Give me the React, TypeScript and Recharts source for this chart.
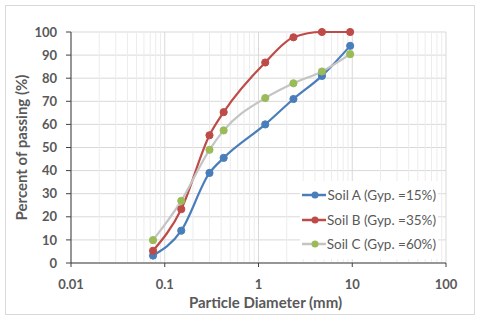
import { LineChart, Line, XAxis, YAxis, CartesianGrid, ReferenceLine, Legend, Label } from "recharts";

// sieve sizes (mm) and percent passing
const sieve = [0.075, 0.15, 0.3, 0.425, 1.18, 2.36, 4.75, 9.5];
const soilA = [3.2, 14, 39, 45.5, 60, 71, 81, 94];
const soilB = [5.3, 23.3, 55.3, 65.3, 86.8, 97.7, 100, 100];
const soilC = [9.9, 26.9, 49, 57.4, 71.4, 77.8, 82.9, 90.4];

const xTicks = [0.01, 0.1, 1, 10, 100];
const minorX = [
  0.02, 0.03, 0.04, 0.05, 0.06, 0.07, 0.08, 0.09,
  0.2, 0.3, 0.4, 0.5, 0.6, 0.7, 0.8, 0.9,
  2, 3, 4, 5, 6, 7, 8, 9,
  20, 30, 40, 50, 60, 70, 80, 90,
];
const yTicks = [0, 10, 20, 30, 40, 50, 60, 70, 80, 90, 100];

const series = [
  { key: "a", name: "Soil A (Gyp. =15%)", line: "#4A7EBB", dot: "#4A7EBB" },
  { key: "b", name: "Soil B (Gyp. =35%)", line: "#BE4B48", dot: "#BE4B48" },
  { key: "c", name: "Soil C (Gyp. =60%)", line: "#C4C4C4", dot: "#9BBB59" },
];

const data = sieve.map((d, i) => ({ d, a: soilA[i], b: soilB[i], c: soilC[i] }));

const font = "Lato, 'Open Sans', sans-serif";
const textColor = "#595959";
const tickStyle = { fill: textColor, fontSize: 13, fontWeight: 700, fontFamily: font };

function LegendBox() {
  return (
    <div style={{ background: "#fff", padding: "2px 2px", width: 134 }}>
      {series.map((s) => (
        <div key={s.key} style={{ display: "flex", alignItems: "center", height: 24.5 }}>
          <svg width={28} height={10}>
            <line x1={0} y1={5} x2={26} y2={5} stroke={s.line} strokeWidth={2.5} />
            <circle cx={13} cy={5} r={3.5} fill={s.dot} />
          </svg>
          <span style={{ fontFamily: font, fontSize: 13.5, color: textColor, marginLeft: 1, whiteSpace: "nowrap" }}>
            {s.name}
          </span>
        </div>
      ))}
    </div>
  );
}

export default function App() {
  return (
    <div style={{ position: "absolute", left: 0, top: 0, width: 480, height: 320, background: "#fff" }}>
      <div
        style={{
          position: "absolute", left: 5, top: 5, width: 468, height: 308,
          border: "1.5px solid #D9D9D9",
        }}
      />
      <LineChart
        width={480}
        height={320}
        data={data}
        margin={{ top: 32, right: 34, bottom: 0, left: 0 }}
        style={{ fontFamily: font }}
      >
        <CartesianGrid vertical={false} stroke="#D9D9D9" />
        {minorX.map((v) => (
          <ReferenceLine key={"m" + v} x={v} stroke="#ECECEC" strokeWidth={1} />
        ))}
        {xTicks.map((v) => (
          <ReferenceLine key={"M" + v} x={v} stroke="#D9D9D9" strokeWidth={1} />
        ))}
        <XAxis
          dataKey="d"
          type="number"
          scale="log"
          domain={[0.01, 100]}
          ticks={xTicks}
          allowDataOverflow
          height={57}
          tickSize={4}
          tickMargin={13}
          tick={tickStyle}
          axisLine={{ stroke: "#404040" }}
          tickLine={{ stroke: "#404040" }}
        >
          <Label
            value="Particle Diameter (mm)"
            position="insideBottom"
            offset={12}
            dx={7}
            style={{ fill: textColor, fontSize: 15, fontWeight: 700, fontFamily: font }}
          />
        </XAxis>
        <YAxis
          type="number"
          domain={[0, 100]}
          ticks={yTicks}
          width={71}
          tickSize={5}
          tickMargin={9}
          tick={tickStyle}
          axisLine={{ stroke: "#404040" }}
          tickLine={{ stroke: "#404040" }}
        >
          <Label
            value="Percent of passing (%)"
            position="center"
            angle={-90}
            dx={-14}
            style={{ fill: textColor, fontSize: 15, fontWeight: 700, fontFamily: font, textAnchor: "middle" }}
          />
        </YAxis>
        {series.map((s) => (
          <Line
            key={s.key}
            dataKey={s.key}
            name={s.name}
            type="monotone"
            stroke={s.line}
            strokeWidth={2.2}
            dot={{ r: 3.6, fill: s.dot, stroke: s.dot, strokeWidth: 1 }}
            activeDot={false}
            isAnimationActive={false}
          />
        ))}
        <Legend
          layout="vertical"
          align="center"
          verticalAlign="middle"
          wrapperStyle={{ left: 300, top: 181, width: 140 }}
          content={() => <LegendBox />}
        />
      </LineChart>
    </div>
  );
}
